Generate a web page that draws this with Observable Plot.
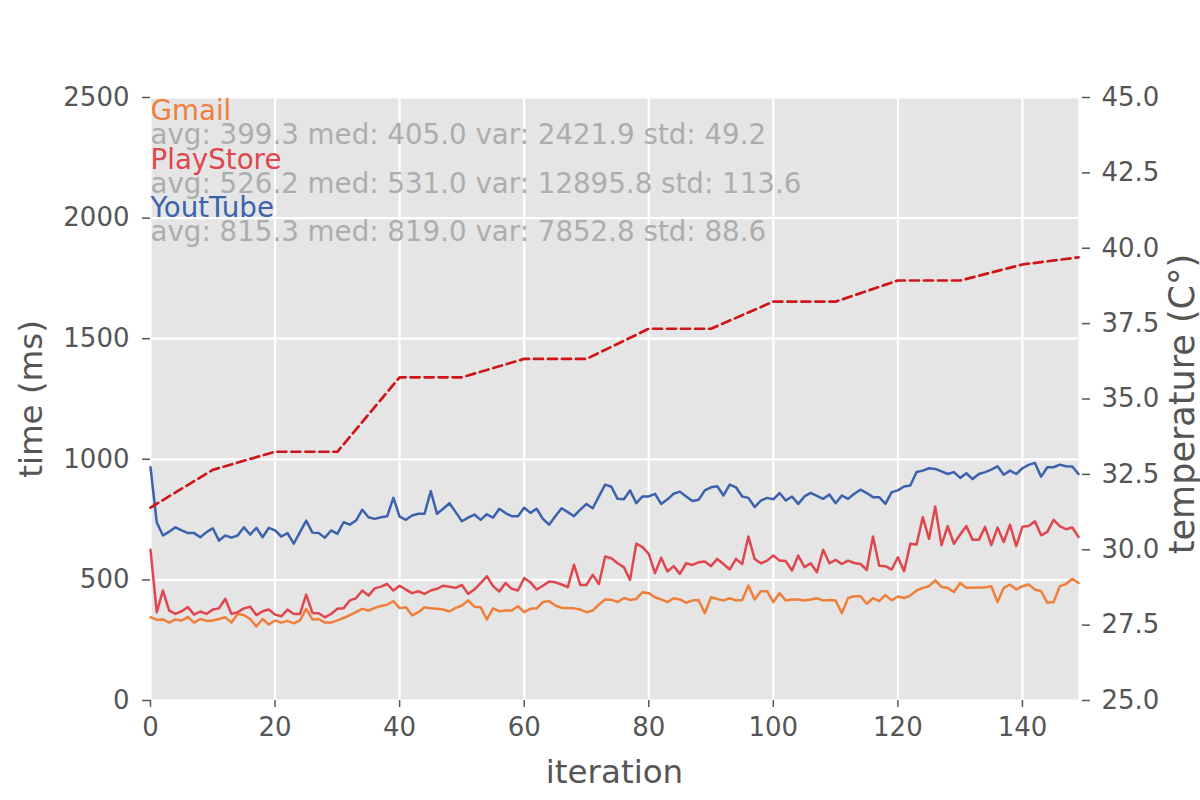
<!DOCTYPE html>
<html>
<head>
<meta charset="utf-8">
<script src="https://cdn.jsdelivr.net/npm/d3@7"></script>
<script src="https://cdn.jsdelivr.net/npm/@observablehq/plot@0.6"></script>
<style>
  body { margin: 0; background: #ffffff; }
  #chart svg { display: block; }
</style>
</head>
<body>
<div id="chart"></div>
<script>
// ---- data ----
const apps = ["Gmail", "PlayStore", "YoutTube"];
const appColors = ["#ef7f3b", "#e0464e", "#3c62ad"];
const appStats = [
  "avg: 399.3 med: 405.0 var: 2421.9 std: 49.2",
  "avg: 526.2 med: 531.0 var: 12895.8 std: 113.6",
  "avg: 815.3 med: 819.0 var: 7852.8 std: 88.6"
];

const gmail = [345,335,336,323,336,332,346,323,338,330,332,338,345,323,359,354,338,307,338,315,
  332,323,330,320,332,380,336,338,323,323,332,342,354,366,380,373,384,392,397,412,
  383,387,353,366,387,382,380,377,369,384,394,415,389,387,336,382,370,373,373,391,
  366,380,382,408,412,394,384,384,382,377,366,373,398,419,418,408,425,417,421,449,
  445,428,419,408,424,419,405,415,417,362,428,421,415,424,415,417,477,419,453,453,
  408,445,415,419,419,415,419,424,415,417,415,362,425,432,432,401,424,412,437,415,
  431,425,435,456,467,474,498,471,467,450,487,467,467,469,469,474,408,467,481,460,
  474,481,460,453,405,408,474,483,505,487];

const playstore = [625,366,456,373,359,370,387,356,369,359,377,382,422,359,366,382,389,354,370,377,
  356,349,377,359,359,439,363,362,345,359,380,382,415,424,456,435,465,472,483,456,
  476,460,445,453,442,456,463,476,472,467,479,442,460,487,515,474,452,487,463,456,
  508,490,460,476,493,490,481,470,563,479,479,521,483,597,590,569,553,500,650,636,
  608,528,592,535,557,525,569,562,573,576,557,587,566,543,587,566,680,587,569,580,
  601,580,578,539,601,553,569,532,625,569,583,566,580,570,566,541,680,559,557,543,
  594,536,650,647,760,670,804,644,723,650,688,723,666,666,720,644,717,657,729,640,
  720,723,743,685,699,749,723,710,717,678];

const youtube = [967,739,684,700,718,705,694,694,677,698,714,663,684,675,684,718,688,716,677,716,
  705,680,694,650,698,746,696,694,675,705,691,739,729,746,791,760,753,760,764,840,
  762,749,767,774,774,868,774,795,818,781,743,758,771,749,772,758,795,777,764,764,
  799,778,795,753,729,764,797,781,764,791,815,797,846,895,886,836,834,871,818,846,
  846,857,815,834,857,866,846,827,832,871,884,888,850,895,884,846,840,802,829,840,
  834,860,829,846,815,846,861,848,836,854,818,850,836,857,874,860,843,843,815,864,
  871,887,891,947,953,963,960,950,939,947,923,942,918,939,947,957,971,936,953,939,
  963,977,985,928,967,967,978,971,970,939];

const tempIter = [0, 10, 20, 30, 40, 50, 60, 70, 80, 90, 100, 110, 120, 130, 140, 149];
const tempValues = [31.4, 32.65, 33.25, 33.25, 35.72, 35.72, 36.33, 36.33, 37.33, 37.33, 38.23, 38.23, 38.93, 38.93, 39.46, 39.7];

const xTicks = [0, 20, 40, 60, 80, 100, 120, 140];
const timeTicks = [0, 500, 1000, 1500, 2000, 2500];
const tempTicks = [25, 27.5, 30, 32.5, 35, 37.5, 40, 42.5, 45];
const xDomain = [0, 149];
const timeDomain = [0, 2500];
const tempDomain = [25, 45];

const xLabel = "iteration";
const timeLabel = "time (ms)";
const tempLabel = "temperature (C°)";

// ---- helpers: map temperature onto the time axis ----
const t2y = t => (t - tempDomain[0]) / (tempDomain[1] - tempDomain[0]) * (timeDomain[1] - timeDomain[0]) + timeDomain[0];
const y2t = y => (y - timeDomain[0]) / (timeDomain[1] - timeDomain[0]) * (tempDomain[1] - tempDomain[0]) + tempDomain[0];

const seriesValues = [gmail, playstore, youtube];
const rows = seriesValues.flatMap((vals, k) => vals.map((v, i) => ({ app: apps[k], i, v })));
const tempRows = tempIter.map((i, k) => ({ i, t: tempValues[k] }));

const FONT = "DejaVu Sans";
const textColor = "#555555";
const lineStep = 24.2;
const legendSize = 27.7;

const legendMarks = [];
apps.forEach((name, k) => {
  legendMarks.push(Plot.text([name], {
    frameAnchor: "top-left", textAnchor: "start", lineAnchor: "top",
    dx: 0, dy: 3 + (2 * k) * lineStep, fill: appColors[k], fontSize: legendSize
  }));
  legendMarks.push(Plot.text([appStats[k]], {
    frameAnchor: "top-left", textAnchor: "start", lineAnchor: "top",
    dx: 0, dy: 3 + (2 * k + 1) * lineStep, fill: "#adadad", fontSize: legendSize
  }));
});

const chart = Plot.plot({
  width: 1200,
  height: 800,
  marginLeft: 150,
  marginRight: 122,
  marginTop: 97,
  marginBottom: 100,
  style: { fontFamily: FONT, fontSize: "26px", color: textColor, background: "#ffffff" },
  x: { domain: xDomain },
  y: { domain: timeDomain },
  color: { domain: apps, range: appColors },
  marks: [
    Plot.frame({ fill: "#e5e5e5", stroke: "none" }),
    Plot.gridX(xTicks, { stroke: "#ffffff", strokeOpacity: 1, strokeWidth: 2.2 }),
    Plot.gridY(timeTicks, { stroke: "#ffffff", strokeOpacity: 1, strokeWidth: 2.2 }),
    Plot.axisX(xTicks, { tickSize: 7, tickPadding: 10, label: null, stroke: textColor, strokeWidth: 1.5, tickFormat: d => String(d) }),
    Plot.axisY(timeTicks, { anchor: "left", tickSize: 8, tickPadding: 13, label: null, stroke: textColor, strokeWidth: 1.5, tickFormat: d => String(d) }),
    Plot.axisY(tempTicks.map(t2y), {
      anchor: "right", tickSize: 8, tickPadding: 12, label: null, dx: 3,
      tickFormat: d => y2t(d).toFixed(1), stroke: textColor, strokeWidth: 1.5
    }),
    Plot.line(rows, { x: "i", y: "v", z: "app", stroke: "app", strokeWidth: 2.5 }),
    Plot.line(tempRows, { x: "i", y: d => t2y(d.t), stroke: "#cf1518", strokeWidth: 2.7, strokeDasharray: "9,5" }),
    ...legendMarks,
    Plot.text([xLabel], { frameAnchor: "bottom", dy: 72, lineAnchor: "middle", fontSize: 32.5, fill: textColor }),
    Plot.text([timeLabel], { frameAnchor: "left", dx: -119, rotate: -90, lineAnchor: "middle", textAnchor: "middle", fontSize: 32.5, fill: textColor }),
    Plot.text([tempLabel], { frameAnchor: "right", dx: 104, dy: 5, rotate: -90, lineAnchor: "middle", textAnchor: "middle", fontSize: 35, fill: textColor })
  ]
});

document.getElementById("chart").appendChild(chart);
</script>
</body>
</html>
